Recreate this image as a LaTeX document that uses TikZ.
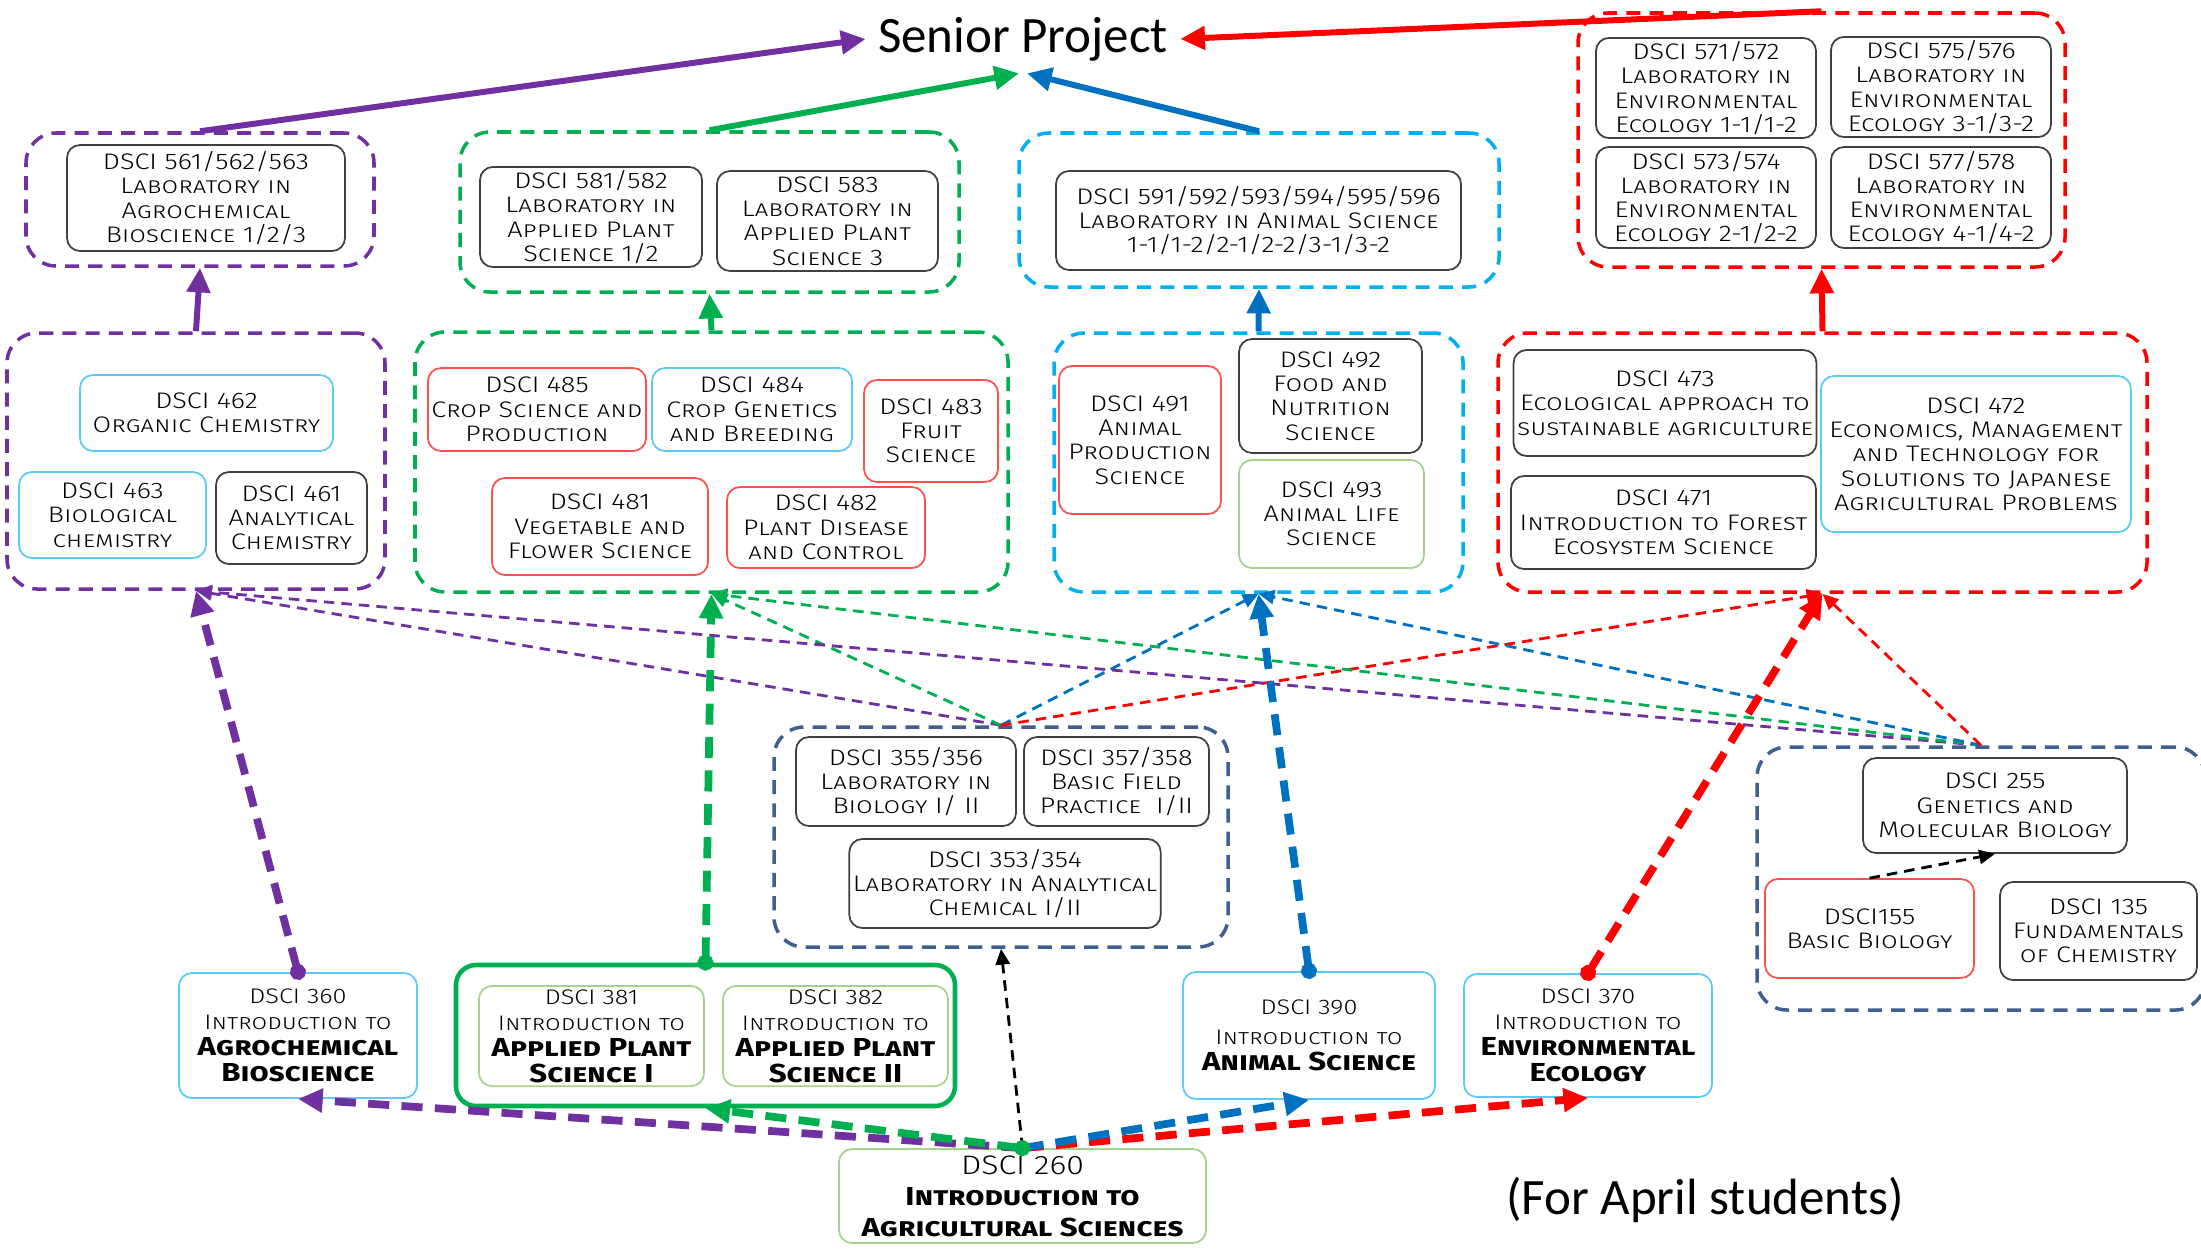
\documentclass[tikz,border=0pt]{standalone}
\usepackage{fontspec}
\newfontfamily\boxfont[FakeStretch=1.2, UprightFont={* Light}, BoldFont={* Bold}]{Fira Sans}
\newfontfamily\titlefont{Carlito}
\usetikzlibrary{arrows.meta,calc}

\definecolor{agpurple}{HTML}{7030A0}
\definecolor{aggreen}{HTML}{00B050}
\definecolor{agblue}{HTML}{0070C0}
\definecolor{agcyan}{HTML}{00B0F0}
\definecolor{agred}{HTML}{FF0000}
\definecolor{agnavy}{HTML}{3F5F8F}
\definecolor{boxgray}{HTML}{404040}
\definecolor{boxcyan}{HTML}{5BCBF5}
\definecolor{boxred}{HTML}{FF5050}
\definecolor{boxgreen}{HTML}{A9D18E}

\newcommand{\crs}{\boxfont\scshape\fontsize{6.4}{6.9}\selectfont}
\newcommand{\crsintro}{\boxfont\scshape\fontsize{6}{7.4}\selectfont}
\newcommand{\crsbold}{\boxfont\scshape\bfseries\fontsize{7.4}{8.6}\selectfont}
\newcommand{\crsnum}{\boxfont\fontsize{7.6}{8.8}\selectfont}

\tikzset{
  course/.style={draw=boxgray, line width=0.5pt, rounded corners=0.13cm, align=center, inner sep=1pt, font=\crs},
  grp/.style={draw=#1, line width=1pt, dash pattern=on 4pt off 2.6pt, rounded corners=0.3cm, inner sep=0pt},
  boxsize/.style 2 args={minimum width=#1*0.01cm, minimum height=#2*0.01cm},
  toproj/.style={draw=#1, line width=1.7pt, -{Triangle[length=7pt,width=6.5pt]}},
  reqarr/.style={draw=#1, line width=2.2pt, dash pattern=on 6pt off 3.5pt, -{Triangle[length=7pt,width=6.5pt]}},
  dotarr/.style={{Circle[length=4.5pt]}-{Triangle[length=7pt,width=6.5pt]}, shorten <=-2.2pt},
  prearr/.style={draw=#1, line width=0.8pt, dash pattern=on 3pt off 2pt, -{Triangle[length=4.5pt,width=4pt]}},
}

\begin{document}
\begin{tikzpicture}[x=0.01cm, y=-0.01cm]
    \useasboundingbox (0,0) rectangle (2201,1248);

    \node[font=\titlefont\fontsize{14.5}{17}\selectfont] (senior) at (1023,39) {Senior Project};
    \node[font=\titlefont\fontsize{14.5}{17}\selectfont] (april) at (1705,1200) {(For April students)};

    \node[grp=agpurple, boxsize={348}{133}] (g56) at (200,199.5) {};
    \node[grp=aggreen, boxsize={499}{160}] (g58) at (709.5,212) {};
    \node[grp=agcyan, boxsize={480}{154}] (g59) at (1259,210) {};
    \node[grp=agred, boxsize={487}{254}] (g57) at (1821.5,140) {};
    \node[grp=agpurple, boxsize={378}{256}] (g46) at (196,461) {};
    \node[grp=aggreen, boxsize={593}{260}] (g48) at (711.5,462) {};
    \node[grp=agcyan, boxsize={409}{259}] (g49) at (1258.5,462.5) {};
    \node[grp=agred, boxsize={649}{259}] (g47) at (1822.5,462.5) {};
    \node[grp=agnavy, boxsize={454}{220}] (g35) at (1001,837) {};
    \node[grp=agnavy, boxsize={448}{263}] (g25) at (1981,878.5) {};
    \node[draw=aggreen, line width=1.3pt, rounded corners=0.2cm, boxsize={499}{141}] (g38) at (705.5,1035.5) {};

    \node[course, boxsize={278}{106}] (c561) at (206,198) {DSCI 561/562/563\\Laboratory in\\Agrochemical\\Bioscience 1/2/3};
    \node[course, boxsize={222}{100}] (c581) at (591,217) {DSCI 581/582\\Laboratory in\\Applied Plant\\Science 1/2};
    \node[course, boxsize={221}{100}] (c583) at (827.5,221) {DSCI 583\\Laboratory in\\Applied Plant\\Science 3};
    \node[course, boxsize={405}{99}] (c591) at (1258.5,220.5) {DSCI 591/592/593/594/595/596\\Laboratory in Animal Science\\1-1/1-2/2-1/2-2/3-1/3-2};
    \node[course, boxsize={220}{100}] (c571) at (1706,88) {DSCI 571/572\\Laboratory in\\Environmental\\Ecology 1-1/1-2};
    \node[course, boxsize={220}{100}] (c575) at (1941,87) {DSCI 575/576\\Laboratory in\\Environmental\\Ecology 3-1/3-2};
    \node[course, boxsize={220}{101}] (c573) at (1706,197.5) {DSCI 573/574\\Laboratory in\\Environmental\\Ecology 2-1/2-2};
    \node[course, boxsize={220}{101}] (c577) at (1941,197.5) {DSCI 577/578\\Laboratory in\\Environmental\\Ecology 4-1/4-2};

    \node[course, draw=boxcyan, boxsize={253}{76}] (c462) at (206.5,413) {DSCI 462\\Organic Chemistry};
    \node[course, draw=boxcyan, boxsize={187}{86}] (c463) at (112.5,515) {DSCI 463\\Biological\\chemistry};
    \node[course, boxsize={151}{92}] (c461) at (291.5,518) {DSCI 461\\Analytical\\Chemistry};
    \node[course, draw=boxred, boxsize={206}{83}] (c485) at (537,409.5) {DSCI 485\\Crop Science and\\Production};
    \node[course, draw=boxcyan, boxsize={200}{83}] (c484) at (752,409.5) {DSCI 484\\Crop Genetics\\and Breeding};
    \node[course, draw=boxred, boxsize={134}{102}] (c483) at (931,431) {DSCI 483\\Fruit\\Science};
    \node[course, draw=boxred, boxsize={216}{97}] (c481) at (600,526.5) {DSCI 481\\Vegetable and\\Flower Science};
    \node[course, draw=boxred, boxsize={198}{81}] (c482) at (826,527.5) {DSCI 482\\Plant Disease\\and Control};
    \node[course, draw=boxred, boxsize={162}{148}] (c491) at (1140,440) {DSCI 491\\Animal\\Production\\Science};
    \node[course, boxsize={183}{114}] (c492) at (1330.5,396) {DSCI 492\\Food and\\Nutrition\\Science};
    \node[course, draw=boxgreen, boxsize={185}{108}] (c493) at (1331.5,514) {DSCI 493\\Animal Life\\Science};
    \node[course, boxsize={302}{106}] (c473) at (1665,403) {DSCI 473\\Ecological approach to\\sustainable agriculture};
    \node[course, boxsize={305}{93}] (c471) at (1663.5,522.5) {DSCI 471\\Introduction to Forest\\Ecosystem Science};
    \node[course, draw=boxcyan, boxsize={310}{156}] (c472) at (1976,454) {DSCI 472\\Economics, Management\\and Technology for\\Solutions to Japanese\\Agricultural Problems};

    \node[course, boxsize={220}{89}] (c355) at (906,781.5) {DSCI 355/356\\Laboratory in\\Biology I/ II};
    \node[course, boxsize={185}{89}] (c357) at (1116.5,781.5) {DSCI 357/358\\Basic Field\\Practice~~I/II};
    \node[course, boxsize={288}{89}] (c353) at (1005,883.5) {DSCI 353/354\\Laboratory in Analytical\\Chemical I/II};
    \node[course, boxsize={264}{95}] (c255) at (1995,805.5) {DSCI 255\\Genetics and\\Molecular Biology};
    \node[course, draw=boxred, boxsize={209}{99}] (c155) at (1869.5,928.5) {DSCI155\\Basic Biology};
    \node[course, boxsize={197}{98}] (c135) at (2098.5,931) {DSCI 135\\Fundamentals\\of Chemistry};

    \node[course, draw=boxcyan, font=\crsintro, boxsize={238}{125}] (c360) at (298,1035.5) {DSCI 360\\Introduction to\\\crsbold Agrochemical\\\crsbold Bioscience};
    \node[course, draw=boxgreen, font=\crsintro, boxsize={225}{98}] (c381) at (591.5,1036) {DSCI 381\\Introduction to\\\crsbold Applied Plant\\\crsbold Science I};
    \node[course, draw=boxgreen, font=\crsintro, boxsize={225}{98}] (c382) at (835.5,1036) {DSCI 382\\Introduction to\\\crsbold Applied Plant\\\crsbold Science II};
    \node[course, draw=boxcyan, font=\crsintro, boxsize={252}{127}] (c390) at (1309,1035.5) {DSCI 390\\[1pt]Introduction to\\\crsbold Animal Science};
    \node[course, draw=boxcyan, font=\crsintro, boxsize={248}{123}] (c370) at (1588,1035.5) {DSCI 370\\Introduction to\\\crsbold Environmental\\\crsbold Ecology};
    \node[course, draw=boxgreen, font=\crsnum, boxsize={367}{94}] (c260) at (1022.5,1196) {DSCI 260\\\crsbold Introduction to\\\crsbold Agricultural Sciences};

    \draw[toproj=agpurple] (g56.north) -- (senior.west);
    \draw[toproj=aggreen] (g58.north) -- ($(senior.south)+(-4,0)$);
    \draw[toproj=agblue] (g59.north) -- ($(senior.south)+(4,0)$);
    \draw[toproj=agred] (g57.north) -- (senior.east);
    \draw[toproj=agpurple] (g46.north) -- (g56.south);
    \draw[toproj=aggreen] (g48.north) -- (g58.south);
    \draw[toproj=agblue] (g49.north) -- (g59.south);
    \draw[toproj=agred] (g47.north) -- (g57.south);

    \draw[prearr=agpurple] (g35.north) -- (g46.south);
    \draw[prearr=aggreen] (g35.north) -- (g48.south);
    \draw[prearr=agblue] (g35.north) -- (g49.south);
    \draw[prearr=agred] (g35.north) -- (g47.south);
    \draw[prearr=agpurple] (g25.north) -- (g46.south);
    \draw[prearr=aggreen] (g25.north) -- (g48.south);
    \draw[prearr=agblue] (g25.north) -- (g49.south);
    \draw[prearr=agred] (g25.north) -- (g47.south);
    \draw[prearr=black] (c155.north) -- (c255.south);
    \draw[prearr=black] (c260.north) -- (g35.south);

    \draw[reqarr=agpurple, dotarr] (c360.north) -- (g46.south);
    \draw[reqarr=aggreen, dotarr] (g38.north) -- (g48.south);
    \draw[reqarr=agblue, dotarr] (c390.north) -- (g49.south);
    \draw[reqarr=agred, dotarr] (c370.north) -- (g47.south);

    \draw[reqarr=agpurple] (c260.north) -- (c360.south);
    \draw[reqarr=agred] (c260.north) -- (c370.south);
    \draw[reqarr=agblue] (c260.north) -- (c390.south);
    \draw[reqarr=aggreen, dotarr] (c260.north) -- (g38.south);
\end{tikzpicture}
\end{document}
